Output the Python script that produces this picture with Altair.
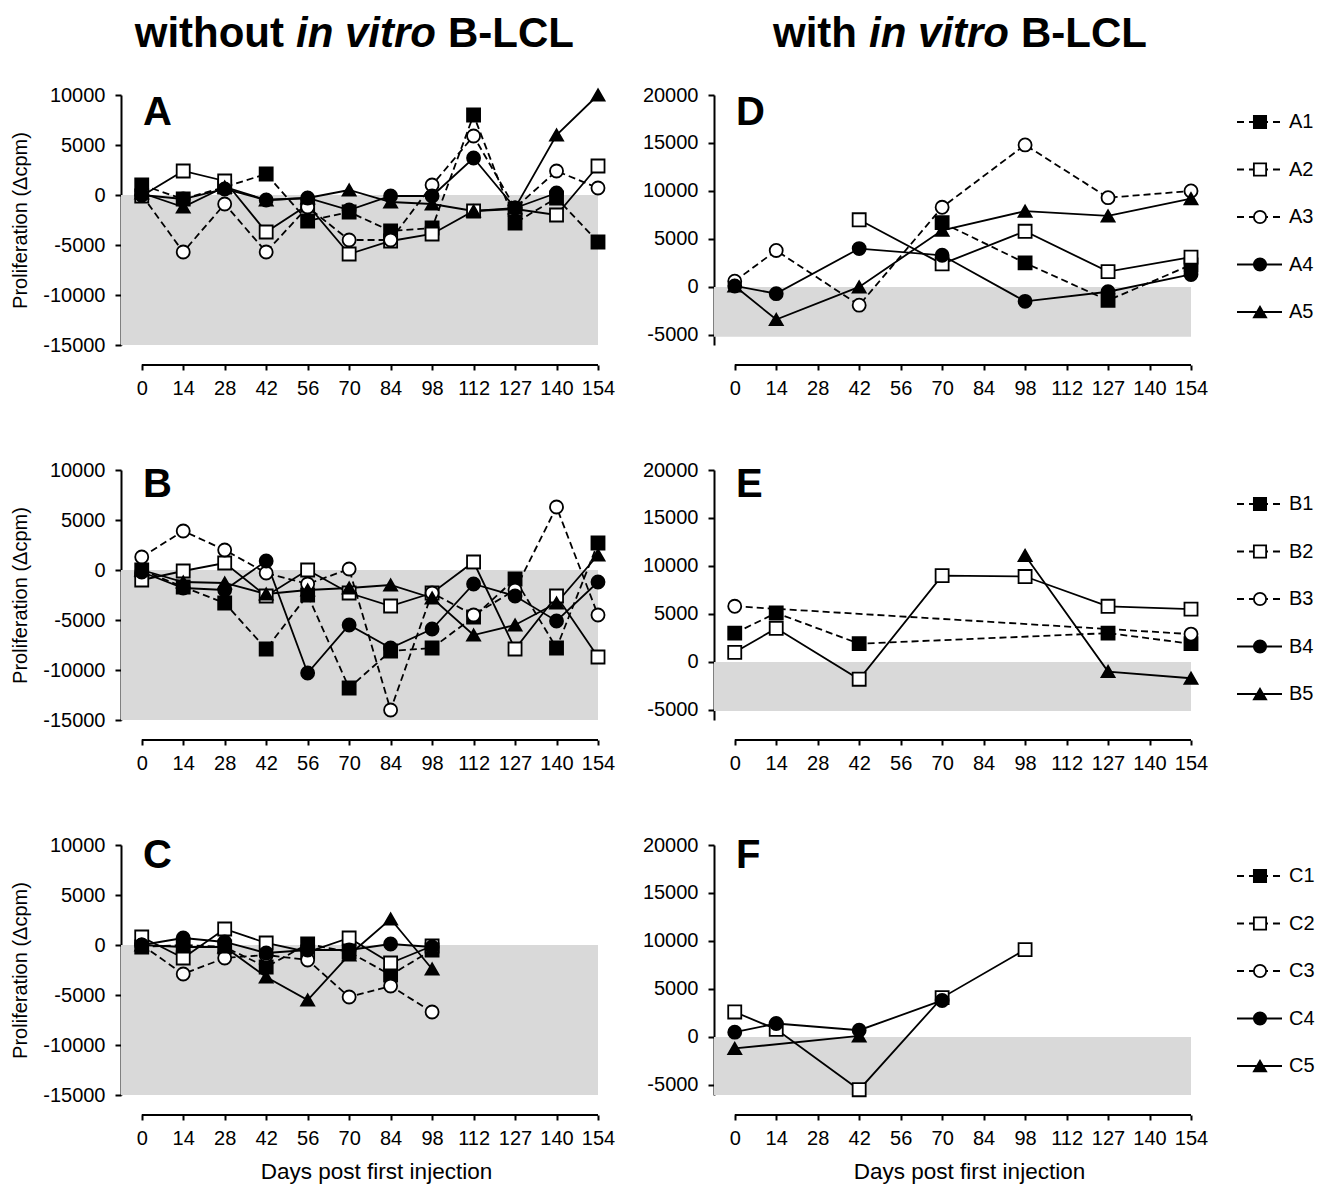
import altair as alt
import pandas as pd

FONT = "Liberation Sans"
N = None

DAYS = ["0", "14", "28", "42", "56", "70", "84", "98", "112", "127", "140", "154"]
KINDS = ["1", "2", "3", "4", "5"]
SHAPES = ["square", "square", "circle", "circle", "triangle-up"]
FILLS = ["black", "white", "white", "black", "black"]
PANEL_DASHED = ["1", "3"]
LEGEND_DASHED = ["1", "2", "3"]

# ---- without in vitro B-LCL ----
A_A1 = [1000, -400, 800, 2100, -2600, -1700, -3600, -3300, 8000, -2800, -300, -4700]
A_A2 = [-100, 2400, 1400, -3700, -1000, -5900, -4600, -3900, -1600, -1400, -2000, 2900]
A_A3 = [0, -5700, -900, -5700, -1200, -4500, -4500, 1000, 5900, -1300, 2400, 700]
A_A4 = [0, -400, 600, -500, -300, -1500, -100, -100, 3700, -1300, 200, N]
A_A5 = [200, -1200, 800, -500, -300, 500, -700, -900, -1600, -1300, 6000, 10000]

B_B1 = [0, -1700, -3300, -7900, -2500, -11800, -8100, -7800, -4700, -900, -7800, 2700]
B_B2 = [-1000, -100, 700, -2600, 0, -2300, -3600, -2300, 800, -7900, -2600, -8700]
B_B3 = [1300, 3900, 2000, -300, -1400, 100, -14000, -2300, -4500, -2000, 6300, -4500]
B_B4 = [-200, -1800, -2000, 900, -10300, -5500, -7800, -5900, -1400, -2600, -5100, -1200]
B_B5 = [0, -1200, -1300, -2400, -2000, -1800, -1500, -2800, -6500, -5500, -3300, 1500]

C_C1 = [-200, 0, -200, -2200, 100, -700, -3000, -500, N, N, N, N]
C_C2 = [800, -1300, 1600, 200, -700, 700, -1800, -100, N, N, N, N]
C_C3 = [0, -2900, -1300, -1000, -1500, -5200, -4100, -6700, N, N, N, N]
C_C4 = [0, 700, 300, -800, -500, -500, 100, -200, N, N, N, N]
C_C5 = [0, -200, -200, -3200, -5500, -1000, 2600, -2400, N, N, N, N]

# ---- with in vitro B-LCL ----
D_A1 = [N, N, N, N, N, 6700, N, 2500, N, -1400, N, 2300]
D_A2 = [N, N, N, 7000, N, 2400, N, 5800, N, 1600, N, 3100]
D_A3 = [600, 3800, N, -1900, N, 8300, N, 14800, N, 9300, N, 10000]
D_A4 = [100, -700, N, 4000, N, 3300, N, -1500, N, -500, N, 1300]
D_A5 = [100, -3400, N, 0, N, 5900, N, 7900, N, 7400, N, 9200]

E_B1 = [3000, 5100, N, 1900, N, N, N, N, N, 3000, N, 1900]
E_B2 = [1000, 3500, N, -1800, N, 9000, N, 8900, N, 5800, N, 5500]
E_B3 = [5800, N, N, N, N, N, N, N, N, N, N, 2900]
E_B4 = [N, N, N, N, N, N, N, N, N, N, N, N]
E_B5 = [N, N, N, N, N, N, N, 11100, N, -1000, N, -1700]

F_C1 = [N, N, N, N, N, N, N, N, N, N, N, N]
F_C2 = [2600, 800, N, -5500, N, 4100, N, 9100, N, N, N, N]
F_C3 = [N, N, N, N, N, N, N, N, N, N, N, N]
F_C4 = [500, 1400, N, 700, N, 3800, N, N, N, N, N, N]
F_C5 = [-1200, N, N, 100, N, N, N, N, N, N, N, N]

NAMES_A = ["A1", "A2", "A3", "A4", "A5"]
NAMES_B = ["B1", "B2", "B3", "B4", "B5"]
NAMES_C = ["C1", "C2", "C3", "C4", "C5"]

LEFT_TICKS = [10000, 5000, 0, -5000, -10000, -15000]
RIGHT_TICKS = [20000, 15000, 10000, 5000, 0, -5000]
LEFT_DOMAIN = [-15000, 10000]
RIGHT_DOMAIN = [-6050, 20000]

YTITLE = "Proliferation (\u0394cpm)"
XTITLE = "Days post first injection"

W, H = 477, 250


def frame(names, rows):
    recs = []
    for k, (name, vals) in enumerate(zip(names, rows)):
        for i, v in enumerate(vals):
            if v is not None:
                recs.append({"idx": i, "val": v, "series": name, "kind": KINDS[k]})
    return pd.DataFrame(recs, columns=["idx", "val", "series", "kind"])


def shape_enc():
    return alt.Shape("kind:N", scale=alt.Scale(domain=KINDS, range=SHAPES), legend=None)


def fill_enc():
    return alt.Fill("kind:N", scale=alt.Scale(domain=KINDS, range=FILLS), legend=None)


def panel(df, ydom, yticks, shade_bottom, letter, letter_y, ytitle, xtitle, title_parts):
    xscale = alt.Scale(domain=[-0.5, 11], nice=False, zero=False)
    yscale = alt.Scale(domain=ydom, nice=False, zero=False)
    label_expr = "[" + ",".join("'%s'" % d for d in DAYS) + "][datum.value]"
    xaxis = alt.Axis(values=list(range(12)), labelExpr=label_expr, domain=False,
                     offset=20, tickSize=5, tickWidth=2, labelPadding=8,
                     labelFontSize=20, labelOverlap=False, labelFlush=False, grid=False,
                     title=xtitle, titleX=255, titleFontSize=22.5, titleFontWeight="normal",
                     titlePadding=12)
    yaxis = alt.Axis(values=yticks, labelExpr="'' + datum.value", domainWidth=2,
                     tickSize=6, tickWidth=2, labelPadding=10, labelFontSize=20,
                     labelOverlap=False, labelFlush=False, grid=False, title=ytitle,
                     titleFontSize=20, titleFontWeight="normal", titlePadding=12)

    def X(f):
        return alt.X(f, type="quantitative", scale=xscale, axis=xaxis)

    def Y(f):
        return alt.Y(f, type="quantitative", scale=yscale, axis=yaxis)

    shade = alt.Chart(pd.DataFrame({"x0": [-0.5], "x1": [11], "y0": [0], "y1": [shade_bottom]})
                      ).mark_rect(color="#d9d9d9").encode(x=X("x0"), x2="x1", y=Y("y0"), y2="y1")
    xrule = alt.Chart(pd.DataFrame({"x0": [0], "x1": [11]})).mark_rule(
        color="black", strokeWidth=2).encode(x=X("x0"), x2="x1", y=alt.value(H + 20))
    base = alt.Chart(df)
    dashed = base.transform_filter(alt.FieldOneOfPredicate(field="kind", oneOf=PANEL_DASHED)
                                   ).mark_line(color="black", strokeWidth=1.8, strokeDash=[7, 4]
                                               ).encode(x=X("idx"), y=Y("val"), detail="series:N")
    solid = base.transform_filter(~alt.FieldOneOfPredicate(field="kind", oneOf=PANEL_DASHED)
                                  ).mark_line(color="black", strokeWidth=1.8
                                              ).encode(x=X("idx"), y=Y("val"), detail="series:N")
    points = base.mark_point(size=170, stroke="black", strokeWidth=1.8, opacity=1).encode(
        x=X("idx"), y=Y("val"), shape=shape_enc(), fill=fill_enc())
    lett = alt.Chart(pd.DataFrame({"t": [letter]})).mark_text(
        fontSize=40, fontWeight="bold", align="left", baseline="alphabetic", color="black"
    ).encode(text="t:N", x=alt.value(22), y=alt.value(letter_y))
    layers = [shade, xrule, dashed, solid, points, lett]
    for text, xpos, align, style in title_parts:
        layers.append(alt.Chart(pd.DataFrame({"t": [text]})).mark_text(
            fontSize=42, fontWeight="bold", fontStyle=style, align=align,
            baseline="alphabetic", color="black"
        ).encode(text="t:N", x=alt.value(xpos), y=alt.value(-48)))
    return alt.layer(*layers).properties(width=W, height=H)


def legend(names, start):
    df = pd.DataFrame({"name": names, "kind": KINDS, "pos": list(range(5))})
    d0 = -start / 47.5
    d1 = d0 + H / 47.5
    y = alt.Y("pos:Q", scale=alt.Scale(domain=[d0, d1], reverse=True, nice=False, zero=False), axis=None)
    base = alt.Chart(df)
    r1 = base.transform_filter(alt.FieldOneOfPredicate(field="kind", oneOf=LEGEND_DASHED)).mark_rule(
        color="black", strokeWidth=1.8, strokeDash=[7, 5]).encode(x=alt.value(-70), x2=alt.value(-25), y=y)
    r2 = base.transform_filter(~alt.FieldOneOfPredicate(field="kind", oneOf=LEGEND_DASHED)).mark_rule(
        color="black", strokeWidth=1.8).encode(x=alt.value(-70), x2=alt.value(-25), y=y)
    pts = base.mark_point(size=150, stroke="black", strokeWidth=1.8, opacity=1).encode(
        x=alt.value(-47), y=y, shape=shape_enc(), fill=fill_enc())
    txt = base.mark_text(align="left", baseline="middle", fontSize=20, color="black").encode(
        x=alt.value(-18), y=y, text="name:N")
    return alt.layer(r1, r2, pts, txt).properties(width=1, height=H)


LEFT_TITLE = [("without", 163, "right", "normal"), ("in vitro", 175, "left", "italic"),
              ("B-LCL", 327, "left", "normal")]
RIGHT_TITLE = [("with", 143, "right", "normal"), ("in vitro", 155, "left", "italic"),
               ("B-LCL", 307, "left", "normal")]

pA = panel(frame(NAMES_A, [A_A1, A_A2, A_A3, A_A4, A_A5]), LEFT_DOMAIN, LEFT_TICKS, -15000,
           "A", 30, YTITLE, None, LEFT_TITLE)
pB = panel(frame(NAMES_B, [B_B1, B_B2, B_B3, B_B4, B_B5]), LEFT_DOMAIN, LEFT_TICKS, -15000,
           "B", 27, YTITLE, None, [])
pC = panel(frame(NAMES_C, [C_C1, C_C2, C_C3, C_C4, C_C5]), LEFT_DOMAIN, LEFT_TICKS, -15000,
           "C", 23, YTITLE, XTITLE, [])
pD = panel(frame(NAMES_A, [D_A1, D_A2, D_A3, D_A4, D_A5]), RIGHT_DOMAIN, RIGHT_TICKS, -5200,
           "D", 30, None, None, RIGHT_TITLE)
pE = panel(frame(NAMES_B, [E_B1, E_B2, E_B3, E_B4, E_B5]), RIGHT_DOMAIN, RIGHT_TICKS, -5100,
           "E", 27, None, None, [])
pF = panel(frame(NAMES_C, [F_C1, F_C2, F_C3, F_C4, F_C5]), RIGHT_DOMAIN, RIGHT_TICKS, -6050,
           "F", 23, None, XTITLE, [])

lA = legend(NAMES_A, 27)
lB = legend(NAMES_B, 34)
lC = legend(NAMES_C, 31)

chart = alt.concat(pA, pD, lA, pB, pE, lB, pC, pF, lC, columns=3).properties(
    spacing={"row": 125, "column": 116}, bounds="flush", align="each",
    padding={"left": 2, "top": 5, "right": 0, "bottom": 5}
).configure_view(stroke=None).configure_axis(
    labelFont=FONT, titleFont=FONT, labelColor="black", titleColor="black",
    domainColor="black", tickColor="black"
).configure_text(font=FONT)

chart.save("out.html", embed_options={"renderer": "svg", "actions": False})
